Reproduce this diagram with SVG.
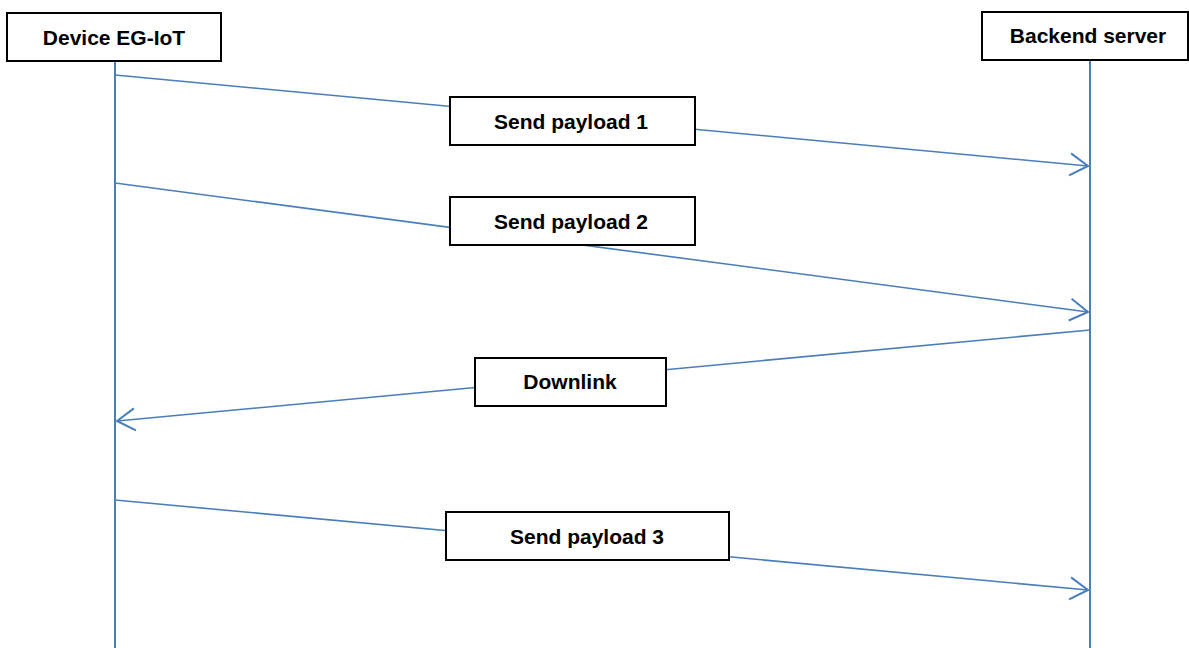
<svg xmlns="http://www.w3.org/2000/svg" width="1189" height="648" viewBox="0 0 1189 648">
  <style>
    .box { fill: #ffffff; stroke: #000000; stroke-width: 2; }
    .lbl { font-family: "Liberation Sans", Arial, sans-serif; font-size: 21px; font-weight: bold; fill: #000000; text-anchor: middle; }
    .life { stroke: #4a7ebb; stroke-width: 2; fill: none; }
    .msg { stroke: #4a7ebb; stroke-width: 1.6; fill: none; marker-end: url(#open); }
  </style>
  <defs>
    <marker id="open" markerUnits="userSpaceOnUse" markerWidth="24" markerHeight="28" viewBox="-20 -14 24 28" refX="0" refY="0" orient="auto">
      <path d="M-18,-11 L0,0 L-18,11" fill="none" stroke="#4a7ebb" stroke-width="2"/>
    </marker>
  </defs>

  <rect width="1189" height="648" fill="#ffffff"/>

  <!-- lifelines and messages -->
  <g id="connectors">
    <line class="life" x1="115" y1="61" x2="115" y2="648"/>
    <line class="life" x1="1090" y1="60" x2="1090" y2="648"/>
    <line class="msg" x1="115" y1="75" x2="1088" y2="166"/>
    <line class="msg" x1="115" y1="183" x2="1088" y2="312"/>
    <line class="msg" x1="1090" y1="330" x2="117" y2="421"/>
    <line class="msg" x1="115" y1="500" x2="1088" y2="590"/>
  </g>

  <g id="device">
    <rect class="box" x="7" y="13" width="214" height="48"/>
    <text class="lbl" x="114" y="45">Device EG-IoT</text>
  </g>
  <g id="backend">
    <rect class="box" x="982" y="12" width="206" height="48"/>
    <text class="lbl" x="1088" y="43">Backend server</text>
  </g>

  <g id="payload1">
    <rect class="box" x="450" y="97" width="245" height="48"/>
    <text class="lbl" x="571" y="129">Send payload 1</text>
  </g>
  <g id="payload2">
    <rect class="box" x="450" y="197" width="245" height="48"/>
    <text class="lbl" x="571" y="229">Send payload 2</text>
  </g>
  <g id="downlink">
    <rect class="box" x="475" y="358" width="191" height="48"/>
    <text class="lbl" x="570" y="389">Downlink</text>
  </g>
  <g id="payload3">
    <rect class="box" x="446" y="512" width="283" height="48"/>
    <text class="lbl" x="587" y="544">Send payload 3</text>
  </g>
</svg>
